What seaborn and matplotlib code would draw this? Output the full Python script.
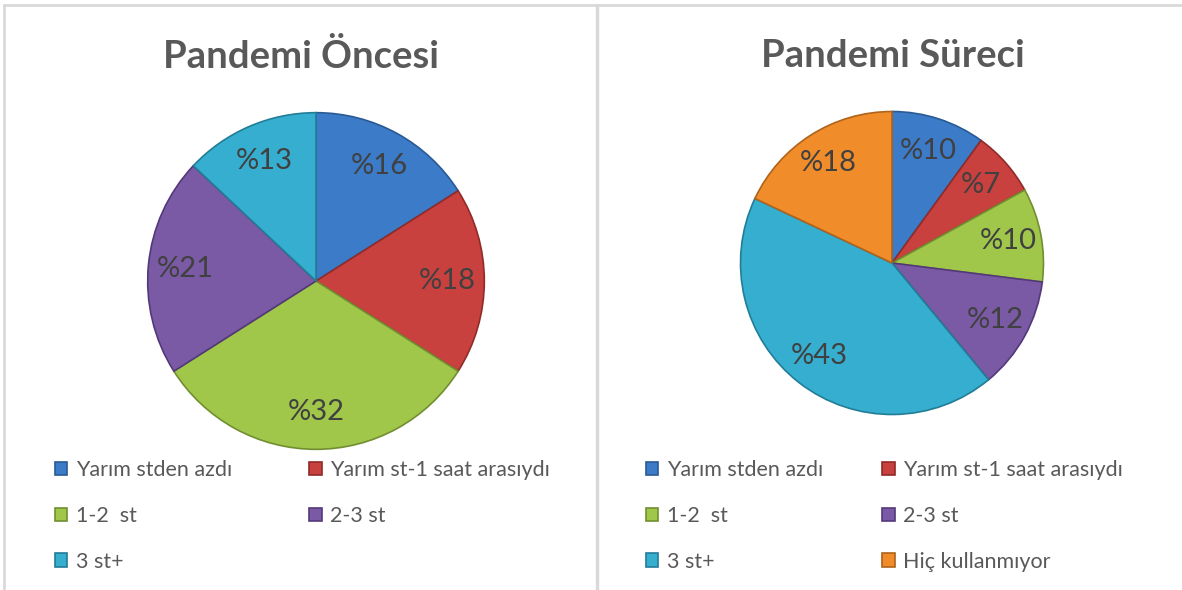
import matplotlib
matplotlib.use("Agg")
import matplotlib.pyplot as plt
from matplotlib.lines import Line2D
import seaborn as sns

# data
cats_before = ["Yarım stden azdı", "Yarım st-1 saat arasıydı", "1-2  st", "2-3 st", "3 st+"]
vals_before = [16, 18, 32, 21, 13]
cats_during = ["Yarım stden azdı", "Yarım st-1 saat arasıydı", "1-2  st", "2-3 st", "3 st+", "Hiç kullanmıyor"]
vals_during = [10, 7, 10, 12, 43, 18]
colors = ["#3b7bc8", "#c9413e", "#a0c64a", "#7a59a5", "#35aed0", "#f08c2a"]
edges = ["#2a5a94", "#8f2b29", "#718f30", "#54397a", "#227d97", "#b0631a"]

sns.set_theme(style="white")
plt.rcParams["font.family"] = ["Lato", "DejaVu Sans"]
grey = "#595959"

fig = plt.figure(figsize=(11.82, 5.9), dpi=100)
W, H = 1182, 590


def pie_axes(cx, cy, r):
    return fig.add_axes([(cx - r) / W, (H - cy - r) / H, 2 * r / W, 2 * r / H])


def draw(ax, vals, cols, eds):
    wedges, texts = ax.pie(vals, colors=cols, startangle=90, counterclock=False,
                           labels=["%" + str(v) for v in vals], labeldistance=0.78,
                           wedgeprops=dict(linewidth=1.2),
                           textprops=dict(color="#404040", fontsize=21, ha="center", va="center"))
    for w, e in zip(wedges, eds):
        w.set_edgecolor(e)
    ax.set_xlim(-1.01, 1.01)
    ax.set_ylim(-1.01, 1.01)
    ax.set_aspect("equal")
    ax.axis("off")
    return wedges


ax1 = pie_axes(316, 281, 170)
w1 = draw(ax1, vals_before, colors[:5], edges[:5])
ax2 = pie_axes(892, 263, 153)
w2 = draw(ax2, vals_during, colors, edges)

fig.text(301 / W, 1 - 56 / H, "Pandemi Öncesi", ha="center", va="center",
         fontsize=27.5, fontweight="bold", color=grey)
fig.text(893 / W, 1 - 56 / H, "Pandemi Süreci", ha="center", va="center",
         fontsize=27.5, fontweight="bold", color=grey)


def legend(handles, labels, x, cs):
    # row-wise order like the original (matplotlib fills columns first)
    order = list(range(0, len(labels), 2)) + list(range(1, len(labels), 2))
    lg = fig.legend([handles[i] for i in order], [labels[i] for i in order],
                    ncol=2, loc="upper left",
                    bbox_to_anchor=(x / W, 1 - 460 / H), frameon=False,
                    fontsize=15.5, labelcolor=grey, handlelength=0.58, handleheight=0.58,
                    handletextpad=0.38, labelspacing=1.2, columnspacing=cs,
                    borderaxespad=0, borderpad=0)
    return lg


legend(w1, cats_before, 55, 3.6)
legend(w2, cats_during, 646, 2.75)

# panel borders
fig.add_artist(Line2D([4 / W, 1], [1 - 5 / H, 1 - 5 / H], color="#d9d9d9", lw=2))
fig.add_artist(Line2D([4 / W, 4 / W], [0, 1 - 5 / H], color="#d9d9d9", lw=2))
fig.add_artist(Line2D([597 / W, 597 / W], [0, 1 - 5 / H], color="#d9d9d9", lw=2.5))

fig.savefig("out.png", dpi=100, facecolor="white")
